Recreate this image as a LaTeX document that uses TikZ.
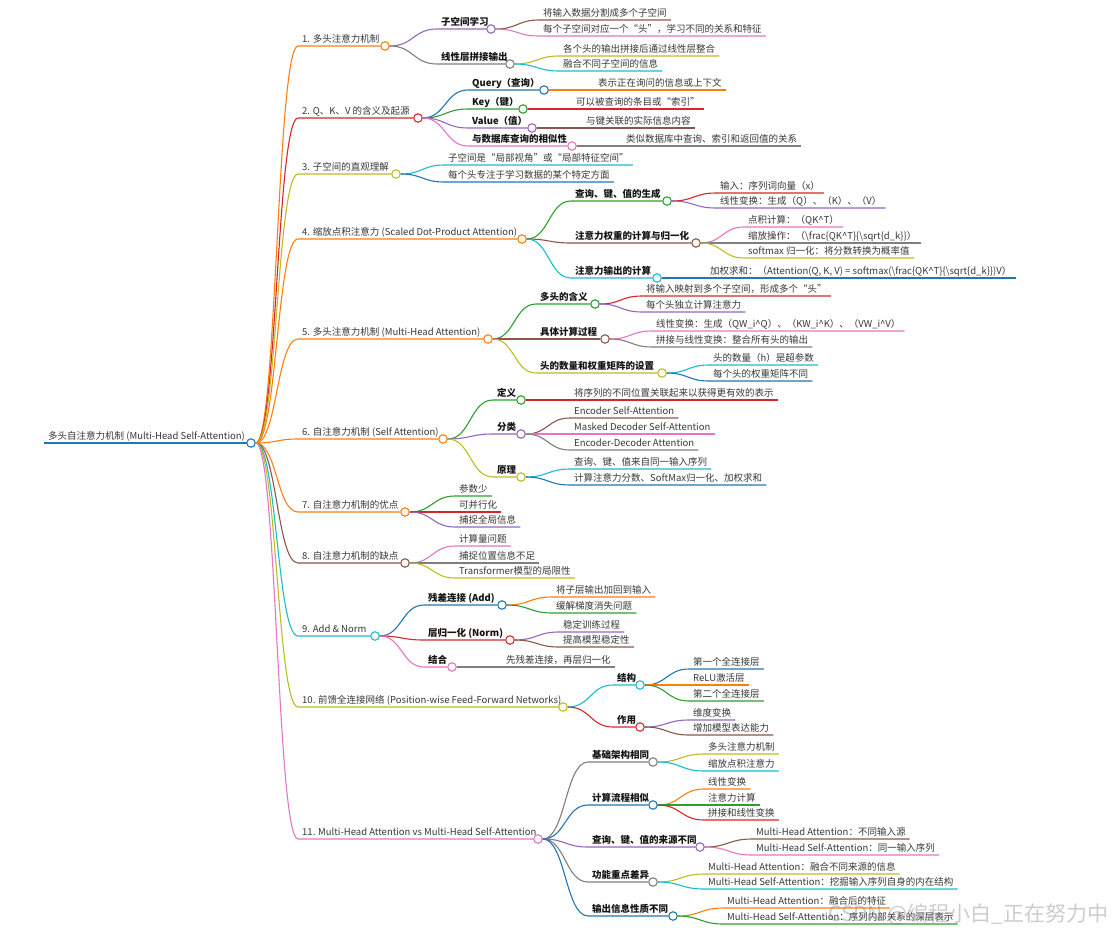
\documentclass[tikz,border=0pt]{standalone}
\usepackage{fontspec}
\setmainfont{Noto Sans CJK SC}
\usepackage{xcolor}
\usetikzlibrary{calc}
\definecolor{mmblue}{HTML}{1F77B4}
\definecolor{mmorange}{HTML}{FF7F0E}
\definecolor{mmgreen}{HTML}{2CA02C}
\definecolor{mmred}{HTML}{D62728}
\definecolor{mmpurple}{HTML}{9467BD}
\definecolor{mmbrown}{HTML}{8C564B}
\definecolor{mmpink}{HTML}{E377C2}
\definecolor{mmgray}{HTML}{7F7F7F}
\definecolor{mmolive}{HTML}{BCBD22}
\definecolor{mmcyan}{HTML}{17BECF}
\tikzset{
  wire/.style={draw=#1,line width=1.1pt},
  knob/.style={circle,draw=#1,fill=white,line width=1.1pt,minimum size=8.5pt,inner sep=0pt},
  twig/.style={to path={let \p1=(\tikztostart),\p2=(\tikztotarget) in
    .. controls ({(\x1+\x2)/2},\y1) and ({(\x1+\x2)/2},\y2) .. (\tikztotarget)}},
  txt/.style={anchor=base west,inner xsep=4pt,inner ysep=0pt,yshift=3.5pt,
    font=\fontsize{9.5}{11}\selectfont,text=black!78},
  lone/.style={txt},
  ltwo/.style={txt,font=\fontsize{9.5}{11}\selectfont\bfseries,text=black!92},
  leaf/.style={txt},
  wmark/.style={anchor=east,font=\fontsize{21}{24}\selectfont,text=gray,opacity=0.4}
}

\begin{document}
\begin{tikzpicture}[x=1pt,y=-1pt]
\fill[white] (0,0) rectangle (1115,936);
\useasboundingbox (0,0) rectangle (1115,936);
% root
\coordinate (sroot) at (44,443);
\node[lone] (troot) at (sroot) {多头自注意力机制 (Multi-Head Self-Attention)};
\draw[wire=mmblue,line width=1.4pt] (sroot) -- (251,443) node[knob=mmblue] (croot) {};
% first level
\foreach \id/\yy/\cx/\col/\txt in {
  a/46/385/mmorange/{1. 多头注意力机制},
  b/118/418/mmred/{2. Q、K、V 的含义及起源},
  c/174/396/mmolive/{3. 子空间的直观理解},
  d/239/522/mmorange/{4. 缩放点积注意力 (Scaled Dot-Product Attention)},
  e/339/488/mmorange/{5. 多头注意力机制 (Multi-Head Attention)},
  f/439/443/mmorange/{6. 自注意力机制 (Self Attention)},
  g/512/405/mmorange/{7. 自注意力机制的优点},
  h/563/405/mmbrown/{8. 自注意力机制的缺点},
  i/636/375/mmcyan/{9. Add \& Norm},
  j/707/563/mmolive/{10. 前馈全连接网络 (Position-wise Feed-Forward Networks)},
  k/839/538/mmpink/{11. Multi-Head Attention vs Multi-Head Self-Attention}}{
  \coordinate (s\id) at (298,\yy);
  \node[lone] (t\id) at (s\id) {\txt};
  \node[knob=\col] (c\id) at (\cx,\yy) {};
  \draw[wire=\col] (croot.east) to[twig] (s\id) -- (c\id.west);
}
% second level
\foreach \up/\id/\sx/\yy/\cx/\col/\txt in {
  a/aa/437/29/491/mmpurple/{子空间学习},
  a/ab/437/64/510/mmgray/{线性层拼接输出},
  b/ba/468/90/544/mmblue/{Query（查询）},
  b/bb/468/109/523/mmgreen/{Key（键）},
  b/bc/468/128/532/mmpurple/{Value（值）},
  b/bd/468/146/572/mmpink/{与数据库查询的相似性},
  d/da/571/201/667/mmgreen/{查询、键、值的生成},
  d/db/571/243/696/mmbrown/{注意力权重的计算与归一化},
  d/dc/571/278/657/mmcyan/{注意力输出的计算},
  e/ea/536/304/595/mmgreen/{多头的含义},
  e/eb/536/339/605/mmbrown/{具体计算过程},
  e/ec/536/373/662/mmolive/{头的数量和权重矩阵的设置},
  f/fa/493/400/521/mmgreen/{定义},
  f/fb/493/434/521/mmpurple/{分类},
  f/fc/493/477/521/mmolive/{原理},
  i/ia/424/605/502/mmblue/{残差连接 (Add)},
  i/ib/424/640/510/mmred/{层归一化 (Norm)},
  i/ic/424/667/452/mmpink/{结合},
  j/ja/613/685/640/mmcyan/{结构},
  j/jb/613/727/640/mmred/{作用},
  k/ka/588/762/653/mmgray/{基础架构相同},
  k/kb/588/805/653/mmblue/{计算流程相似},
  k/kc/588/847/700/mmpurple/{查询、键、值的来源不同},
  k/kd/588/882/653/mmgray/{功能重点差异},
  k/ke/588/916/673/mmblue/{输出信息性质不同}}{
  \coordinate (s\id) at (\sx,\yy);
  \node[ltwo] (t\id) at (s\id) {\txt};
  \node[knob=\col] (c\id) at (\cx,\yy) {};
  \draw[wire=\col] (c\up.east) to[twig] (s\id) -- (c\id.west);
}
% leaves
\foreach \up/\sx/\yy/\col/\txt [count=\k] in {
  aa/539/20/mmbrown/{将输入数据分割成多个子空间},
  aa/539/36/mmpink/{每个子空间对应一个“头”，学习不同的关系和特征},
  ab/559/56/mmolive/{各个头的输出拼接后通过线性层整合},
  ab/559/71/mmcyan/{融合不同子空间的信息},
  ba/594/90/mmorange/{表示正在询问的信息或上下文},
  bb/572/109/mmred/{可以被查询的条目或“索引”},
  bc/582/128/mmbrown/{与键关联的实际信息内容},
  bd/622/146/mmgray/{类似数据库中查询、索引和返回值的关系},
  c/444/165/mmcyan/{子空间是“局部视角”或“局部特征空间”},
  c/444/182/mmblue/{每个头专注于学习数据的某个特定方面},
  da/716/193/mmred/{输入：序列词向量（x）},
  da/716/208/mmpurple/{线性变换：生成（Q）、（K）、（V）},
  db/744/227/mmpink/{点积计算：（QK\textasciicircum T）},
  db/744/243/mmgray/{缩放操作：（\textbackslash frac\{QK\textasciicircum T\}\{\textbackslash sqrt\{d\_k\}\}）},
  db/744/258/mmolive/{softmax 归一化：将分数转换为概率值},
  dc/706/278/mmblue/{加权求和：（Attention(Q, K, V) = softmax(\textbackslash frac\{QK\textasciicircum T\}\{\textbackslash sqrt\{d\_k\}\})V）},
  ea/642/296/mmred/{将输入映射到多个子空间，形成多个“头”},
  ea/642/312/mmpurple/{每个头独立计算注意力},
  eb/652/331/mmpink/{线性变换：生成（QW\_i\textasciicircum Q）、（KW\_i\textasciicircum K）、（VW\_i\textasciicircum V）},
  eb/652/347/mmgray/{拼接与线性变换：整合所有头的输出},
  ec/709/365/mmcyan/{头的数量（h）是超参数},
  ec/709/381/mmblue/{每个头的权重矩阵不同},
  fa/570/400/mmred/{将序列的不同位置关联起来以获得更有效的表示},
  fb/570/418/mmbrown/{Encoder Self-Attention},
  fb/570/434/mmpink/{Masked Decoder Self-Attention},
  fb/570/450/mmgray/{Encoder-Decoder Attention},
  fc/570/469/mmcyan/{查询、键、值来自同一输入序列},
  fc/570/485/mmblue/{计算注意力分数、SoftMax归一化、加权求和},
  g/455/496/mmgreen/{参数少},
  g/455/512/mmred/{可并行化},
  g/455/527/mmpurple/{捕捉全局信息},
  h/455/546/mmpink/{计算量问题},
  h/455/563/mmgray/{捕捉位置信息不足},
  h/455/578/mmolive/{Transformer模型的局限性},
  ia/552/597/mmorange/{将子层输出加回到输入},
  ia/552/613/mmgreen/{缓解梯度消失问题},
  ib/559/632/mmpurple/{稳定训练过程},
  ib/559/647/mmbrown/{提高模型稳定性},
  ic/502/667/mmgray/{先残差连接，再层归一化},
  ja/689/669/mmblue/{第一个全连接层},
  ja/689/685/mmorange/{ReLU激活层},
  ja/689/701/mmgreen/{第二个全连接层},
  jb/689/720/mmpurple/{维度变换},
  jb/689/735/mmbrown/{增加模型表达能力},
  ka/704/754/mmolive/{多头注意力机制},
  ka/704/771/mmcyan/{缩放点积注意力},
  kb/704/789/mmorange/{线性变换},
  kb/704/805/mmgreen/{注意力计算},
  kb/704/820/mmred/{拼接和线性变换},
  kc/752/839/mmbrown/{Multi-Head Attention：不同输入源},
  kc/752/855/mmpink/{Multi-Head Self-Attention：同一输入序列},
  kd/704/874/mmolive/{Multi-Head Attention：融合不同来源的信息},
  kd/704/889/mmcyan/{Multi-Head Self-Attention：挖掘输入序列自身的内在结构},
  ke/723/908/mmorange/{Multi-Head Attention：融合后的特征},
  ke/723/924/mmgreen/{Multi-Head Self-Attention：序列内部关系的深层表示}}{
  \coordinate (l\k) at (\sx,\yy);
  \node[leaf] (m\k) at (l\k) {\txt};
  \draw[wire=\col] (c\up.east) to[twig] (l\k) -- (m\k.east |- l\k);
}
\node[wmark] (wm) at (1112,914) {CSDN @编程小白\_正在努力中};
\end{tikzpicture}
\end{document}
